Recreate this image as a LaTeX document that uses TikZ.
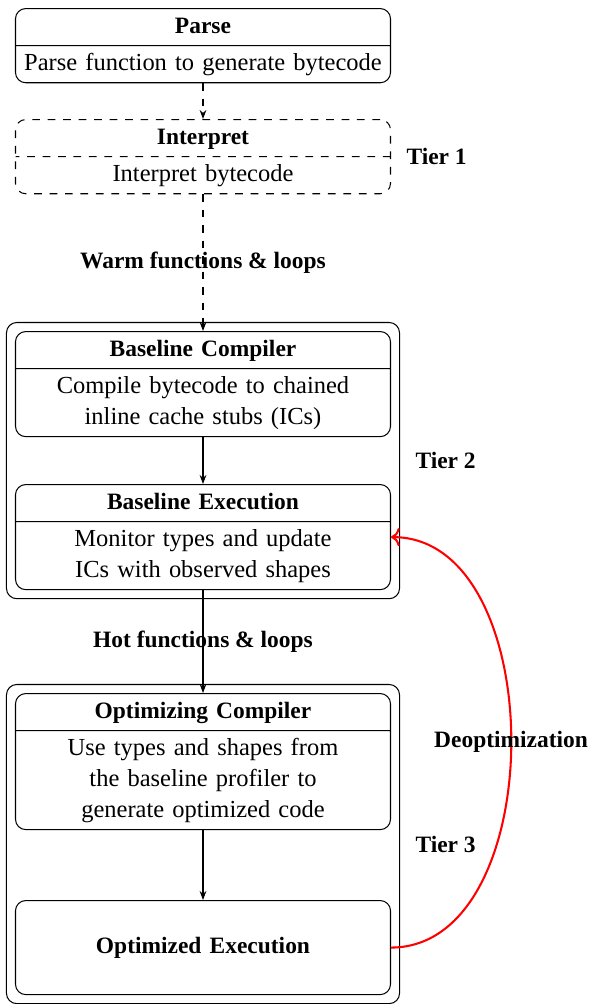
\documentclass[tikz,border=0pt]{standalone}
\usepackage{fontspec}
\setmainfont{Liberation Serif}
\usepackage{tikz}
\usetikzlibrary{positioning,arrows.meta,fit,shapes.multipart}
\newcommand{\hd}[1]{{\fontsize{9.1}{12}\selectfont\bfseries\strut #1}}
\newcommand{\bd}[1]{\strut #1\strut}

\begin{document}
\begin{tikzpicture}[x=0.388pt, y=-0.388pt, font=\fontsize{9.5}{12}\selectfont,
    stage/.style={draw, rounded corners, rectangle split, rectangle split parts=2,
      text width=140pt, align=center, inner xsep=2.75pt, inner ysep=1pt},
    runbox/.style={draw, rounded corners, text width=140pt, align=center,
      inner xsep=2.75pt, minimum height=36.5pt},
    tierbox/.style={draw, rounded corners, inner sep=3.3pt},
    lbl/.style={text=black, font=\fontsize{9.1}{11}\selectfont\bfseries},
    flow/.style={-{Stealth[length=3.5pt,width=2.6pt]}},
    deopt/.style={->, red, thick}]
    \useasboundingbox (0,0) rectangle (591,1004);

    % tier 1
    \node[stage, anchor=north] (parse) at (203,8)
      {\hd{Parse}\nodepart{two}\bd{Parse function to generate bytecode}};
    \node[stage, dashed, anchor=north] (interp) at (203,119)
      {\hd{Interpret}\nodepart{two}\bd{Interpret bytecode}};

    % tier 2
    \node[stage, anchor=north] (bcomp) at (203,331)
      {\hd{Baseline Compiler}\nodepart{two}\bd{Compile bytecode to chained\\ inline cache stubs (ICs)}};
    \node[stage, anchor=north] (bexec) at (203,484)
      {\hd{Baseline Execution}\nodepart{two}\bd{Monitor types and update\\ ICs with observed shapes}};

    % tier 3
    \node[stage, anchor=north] (ocomp) at (203,693)
      {\hd{Optimizing Compiler}\nodepart{two}\bd{Use types and shapes from\\ the baseline profiler to\\ generate optimized code}};
    \node[runbox, anchor=north] (oexec) at (203,900) {\hd{Optimized Execution}};

    \node[tierbox, fit=(bcomp)(bexec)] (tier2) {};
    \node[tierbox, fit=(ocomp)(oexec)] (tier3) {};

    \node[lbl, right=2.5pt of interp] (t1) {Tier 1};
    \node[lbl, right=2.5pt of tier2] (t2) {Tier 2};
    \node[lbl, right=2.5pt of tier3] (t3) {Tier 3};

    \draw[flow, dashed] (parse) -- (interp);
    \draw[flow, dashed] (interp) -- node[lbl] (warm) {Warm functions \& loops} (bcomp);
    \draw[flow] (bcomp) -- (bexec);
    \draw[flow] (bexec) -- node[lbl] (hot) {Hot functions \& loops} (ocomp);
    \draw[flow] (ocomp) -- (oexec);
    \draw[deopt] (oexec.east) to[out=0, in=0] node[lbl] (deo) {Deoptimization} (bexec.east);
\end{tikzpicture}
\end{document}
